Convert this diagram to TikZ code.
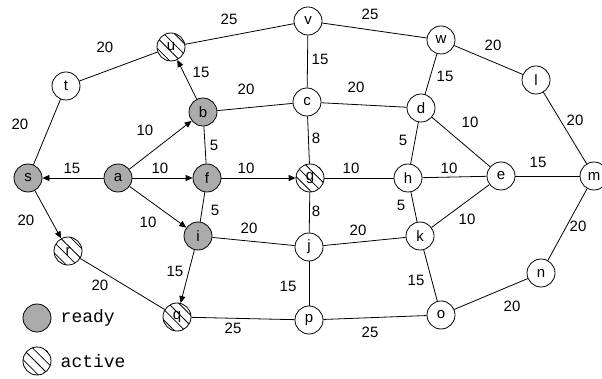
\documentclass[tikz,border=0pt]{standalone}
\usepackage{fontspec}
\setmainfont{Liberation Sans}
\setmonofont{Liberation Mono}
\usetikzlibrary{arrows.meta,patterns.meta}

\tikzset{
  vtx/.style={draw,circle,minimum size=28pt,inner sep=0pt},
  ready/.style={vtx,fill=black!33},
  active/.style={vtx,pattern={Lines[angle=-45,distance=7.5pt,line width=0.8pt]}},
  wt/.style={inner sep=0pt},
  tip/.style={-{Triangle[length=7pt,width=6pt]}}
}

\begin{document}
\begin{tikzpicture}[x=1pt,y=-1pt,line width=0.8pt,every node/.style={font=\fontsize{15}{17}\selectfont}]
        \useasboundingbox (0,0) rectangle (602,379);
        % vertices
        \node[ready] (s) at (28,178) {s};
        \node[ready] (a) at (118,178) {a};
        \node[ready] (f) at (207,178) {f};
        \node[active] (g) at (310,178) {g};
        \node[vtx] (h) at (408,178) {h};
        \node[vtx] (e) at (501,176) {e};
        \node[vtx] (m) at (594,176) {m};
        \node[vtx] (t) at (66,86) {t};
        \node[active] (u) at (171,47) {u};
        \node[vtx] (v) at (308,21) {v};
        \node[vtx] (w) at (441,40) {w};
        \node[vtx] (l) at (536,80) {l};
        \node[ready] (b) at (203,112) {b};
        \node[vtx] (c) at (307,102) {c};
        \node[vtx] (d) at (421,108) {d};
        \node[ready] (i) at (198,236) {i};
        \node[vtx] (j) at (309,247) {j};
        \node[vtx] (k) at (420,236) {k};
        \node[active] (r) at (68,251) {r};
        \node[active] (q) at (177,317) {q};
        \node[vtx] (p) at (309,320) {p};
        \node[vtx] (o) at (441,315) {o};
        \node[vtx] (n) at (541,273) {n};
        % edges
        \draw (s)--(t); \draw (t)--(u); \draw (u)--(v); \draw (v)--(w);
        \draw (w)--(l); \draw (l)--(m); \draw (b)--(c); \draw (v)--(c);
        \draw (c)--(d); \draw (w)--(d); \draw (b)--(f); \draw (c)--(g);
        \draw (d)--(h); \draw (d)--(e); \draw (g)--(h); \draw (h)--(e);
        \draw (e)--(m); \draw (f)--(i); \draw (g)--(j); \draw (h)--(k);
        \draw (k)--(e); \draw (i)--(j); \draw (j)--(k); \draw (m)--(n);
        \draw (r)--(q); \draw (j)--(p); \draw (k)--(o); \draw (o)--(n);
        \draw (q)--(p); \draw (p)--(o);
        \draw[tip] (a)--(s); \draw[tip] (a)--(b); \draw[tip] (a)--(f);
        \draw[tip] (a)--(i); \draw[tip] (b)--(u); \draw[tip] (f)--(g);
        \draw[tip] (s)--(r); \draw[tip] (i)--(q);
        % weights
        \node[wt] (wst) at (20,124) {20};
        \node[wt] (wtu) at (105,47) {20};
        \node[wt] (wuv) at (229,19) {25};
        \node[wt] (wvw) at (370,14) {25};
        \node[wt] (wwl) at (493,45) {20};
        \node[wt] (wlm) at (575,120) {20};
        \node[wt] (wbu) at (201,72) {15};
        \node[wt] (wbc) at (246,89) {20};
        \node[wt] (wvc) at (320,59) {15};
        \node[wt] (wcd) at (356,87) {20};
        \node[wt] (wwd) at (445,76) {15};
        \node[wt] (wab) at (145,130) {10};
        \node[wt] (wbf) at (214,145) {5};
        \node[wt] (wcg) at (316,138) {8};
        \node[wt] (wdh) at (403,140) {5};
        \node[wt] (wde) at (470,122) {10};
        \node[wt] (was) at (72,168) {15};
        \node[wt] (waf) at (160,168) {10};
        \node[wt] (wfg) at (246,168) {10};
        \node[wt] (wgh) at (351,168) {10};
        \node[wt] (whe) at (449,168) {10};
        \node[wt] (wem) at (538,162) {15};
        \node[wt] (wai) at (148,222) {10};
        \node[wt] (wfi) at (215,210) {5};
        \node[wt] (wgj) at (316,211) {8};
        \node[wt] (whk) at (401,205) {5};
        \node[wt] (wke) at (467,219) {10};
        \node[wt] (wij) at (249,228) {20};
        \node[wt] (wjk) at (358,230) {20};
        \node[wt] (wmn) at (578,226) {20};
        \node[wt] (wsr) at (26,220) {20};
        \node[wt] (wrq) at (100,285) {20};
        \node[wt] (wiq) at (175,271) {15};
        \node[wt] (wjp) at (288,286) {15};
        \node[wt] (wko) at (416,280) {15};
        \node[wt] (won) at (512,306) {20};
        \node[wt] (wqp) at (233,328) {25};
        \node[wt] (wpo) at (370,332) {25};
        % legend
        \node[ready] (kready) at (37,318) {};
        \node[anchor=west,font=\ttfamily\fontsize{18}{20}\selectfont] (tready) at (57,318) {ready};
        \node[active] (kactive) at (37,361) {};
        \node[anchor=west,font=\ttfamily\fontsize{18}{20}\selectfont] (tactive) at (57,361) {active};
      \end{tikzpicture}
\end{document}
